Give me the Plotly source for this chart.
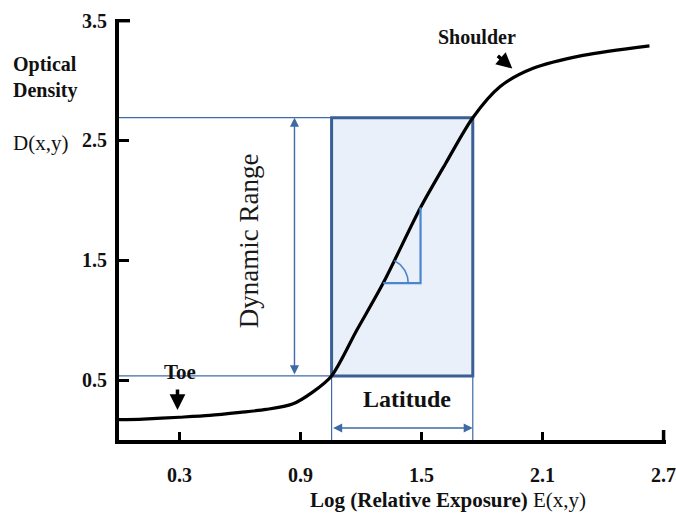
import numpy as np
import plotly.graph_objects as go

# ---- data ----
curve_x = [0, 0.12, 0.3, 0.45, 0.6, 0.73, 0.86, 0.96, 1.054, 1.18, 1.31, 1.495, 1.62, 1.754, 1.89, 2.05, 2.3, 2.63]
curve_y = [0.17, 0.175, 0.19, 0.205, 0.23, 0.255, 0.30, 0.40, 0.535, 0.92, 1.31, 1.94, 2.31, 2.69, 2.95, 3.10, 3.21, 3.29]

x_ticks = [0.3, 0.9, 1.5, 2.1, 2.7]
x_ticklabels = ["0.3", "0.9", "1.5", "2.1", "2.7"]
y_ticks = [0.5, 1.5, 2.5, 3.5]
y_ticklabels = ["0.5", "1.5", "2.5", "3.5"]

latitude = [1.054, 1.754]          # exposure range of the box
dyn_range = [0.535, 2.69]          # density range of the box
dyn_arrow_x = 0.87
lat_arrow_y = 0.1
tri_x = [1.31, 1.495, 1.495]       # slope triangle
tri_y = [1.31, 1.31, 1.94]

X_RANGE = [0, 2.712]
Y_RANGE = [0, 3.514]

W, H = 676, 521
ML, MR, MT, MB = 119, 10, 19, 81
PW, PH = W - ML - MR, H - MT - MB
px_x = PW / (X_RANGE[1] - X_RANGE[0])
px_y = PH / (Y_RANGE[1] - Y_RANGE[0])

BLUE = "#3f6aa6"
BOX = "#3a5f94"
TRI = "#4a86cf"
SERIF = "Liberation Serif, Times New Roman, serif"


def paper(px, py):
    return (px - ML) / PW, 1 - (py - MT) / PH


fig = go.Figure()

# box
fig.add_shape(type="rect", x0=latitude[0], x1=latitude[1], y0=dyn_range[0], y1=dyn_range[1],
              fillcolor="#eaf0f9", line=dict(color=BOX, width=3), layer="below")
# guide lines
for yy in dyn_range:
    fig.add_shape(type="line", x0=X_RANGE[0], x1=latitude[0], y0=yy, y1=yy,
                  line=dict(color=BLUE, width=1.2), layer="below")
for xx in latitude:
    fig.add_shape(type="line", x0=xx, x1=xx, y0=Y_RANGE[0], y1=dyn_range[0],
                  line=dict(color=BLUE, width=1.2), layer="below")

# end ticks of the axes
fig.add_trace(go.Scatter(x=[x_ticks[-1], x_ticks[-1]], y=[Y_RANGE[0], Y_RANGE[0] + 10 / px_y],
                         mode="lines", line=dict(color="black", width=3.5),
                         hoverinfo="skip", showlegend=False))
fig.add_trace(go.Scatter(x=[X_RANGE[0], X_RANGE[0] + 11 / px_x], y=[y_ticks[-1], y_ticks[-1]],
                         mode="lines", line=dict(color="black", width=3.5),
                         hoverinfo="skip", showlegend=False))

# curve
fig.add_trace(go.Scatter(x=curve_x, y=curve_y, mode="lines",
                         line=dict(color="black", width=3.2, shape="spline", smoothing=0.8),
                         hoverinfo="skip", showlegend=False))

# slope triangle
fig.add_trace(go.Scatter(x=tri_x, y=tri_y, mode="lines",
                         line=dict(color=TRI, width=2.2), hoverinfo="skip", showlegend=False))
# angle arc
ang = np.arctan2((tri_y[2] - tri_y[0]) * px_y, (tri_x[2] - tri_x[0]) * px_x)
t = np.linspace(0, ang, 30)
r = 25
fig.add_trace(go.Scatter(x=tri_x[0] + r * np.cos(t) / px_x, y=tri_y[0] + r * np.sin(t) / px_y,
                         mode="lines", line=dict(color=TRI, width=1.6),
                         hoverinfo="skip", showlegend=False))

ann = []
# dynamic range arrow
ann.append(dict(x=dyn_arrow_x, y=dyn_range[1], ax=dyn_arrow_x, ay=dyn_range[0],
                xref="x", yref="y", axref="x", ayref="y", text="", showarrow=True,
                arrowside="end+start", arrowhead=2, arrowsize=1.3, arrowwidth=1.4,
                arrowcolor=BLUE, standoff=0, startstandoff=0))
# latitude arrow
ann.append(dict(x=latitude[1], y=lat_arrow_y, ax=latitude[0], ay=lat_arrow_y,
                xref="x", yref="y", axref="x", ayref="y", text="", showarrow=True,
                arrowside="end+start", arrowhead=2, arrowsize=1.3, arrowwidth=1.4,
                arrowcolor=BLUE, standoff=0, startstandoff=0))
# labels
ann.append(dict(x=0.645, y=1.66, xref="x", yref="y", text="Dynamic Range", textangle=-90,
                showarrow=False, font=dict(family=SERIF, size=27, color="#1a1a1a")))
ann.append(dict(x=1.43, y=0.34, xref="x", yref="y", text="<b>Latitude</b>",
                showarrow=False, font=dict(family=SERIF, size=24, color="#111")))
ann.append(dict(x=0.3, y=0.565, xref="x", yref="y", text="<b>Toe</b>",
                showarrow=False, font=dict(family=SERIF, size=21, color="#111")))
ann.append(dict(x=0.29, y=0.25, ax=0, ay=-22, xref="x", yref="y", text="", showarrow=True,
                arrowhead=2, arrowsize=0.9, arrowwidth=3.5, arrowcolor="black"))
ann.append(dict(x=1.95, y=3.1, ax=-16, ay=-14, xref="x", yref="y", text="", showarrow=True,
                arrowhead=2, arrowsize=0.9, arrowwidth=3.5, arrowcolor="black"))
ann.append(dict(x=1.63, y=0, xref="x", yref="paper", yshift=-60, yanchor="middle",
                text="<b>Log (Relative Exposure)</b> E(x,y)",
                showarrow=False, font=dict(family=SERIF, size=21, color="#111")))

# pixel-placed labels (outside plot area)
sx, sy = paper(477, 37)
ann.append(dict(x=sx, y=sy, xref="paper", yref="paper", text="<b>Shoulder</b>",
                showarrow=False, yanchor="middle", font=dict(family=SERIF, size=20, color="#111")))
ox, oy = paper(11, 77)
ann.append(dict(x=ox, y=oy, xref="paper", yref="paper", text="<b>Optical<br>Density</b>",
                showarrow=False, align="left", xanchor="left", yanchor="middle",
                font=dict(family=SERIF, size=20, color="#111")))
dx, dy = paper(11, 143)
ann.append(dict(x=dx, y=dy, xref="paper", yref="paper", text="D(x,y)", showarrow=False,
                xanchor="left", yanchor="middle",
                font=dict(family=SERIF, size=21, color="#111")))

fig.update_layout(
    width=W, height=H, margin=dict(l=ML, r=MR, t=MT, b=MB, autoexpand=False),
    paper_bgcolor="white", plot_bgcolor="white",
    annotations=ann,
    xaxis=dict(range=X_RANGE, showgrid=False, zeroline=False, showline=True, linewidth=4,
               linecolor="black", ticks="inside", ticklen=8, tickwidth=3, tickcolor="black",
               tickvals=x_ticks, ticktext=x_ticklabels, ticklabelstandoff=14,
               ticklabeloverflow="allow", automargin=False,
               tickfont=dict(family=SERIF, size=20, color="#111", weight="bold")),
    yaxis=dict(range=Y_RANGE, showgrid=False, zeroline=False, showline=True, linewidth=4,
               linecolor="black", ticks="inside", ticklen=10, tickwidth=3, tickcolor="black",
               tickvals=y_ticks, ticktext=y_ticklabels, ticklabelstandoff=4,
               ticklabeloverflow="allow", automargin=False,
               tickfont=dict(family=SERIF, size=20, color="#111", weight="bold")),
)

fig.write_html("out.html")
